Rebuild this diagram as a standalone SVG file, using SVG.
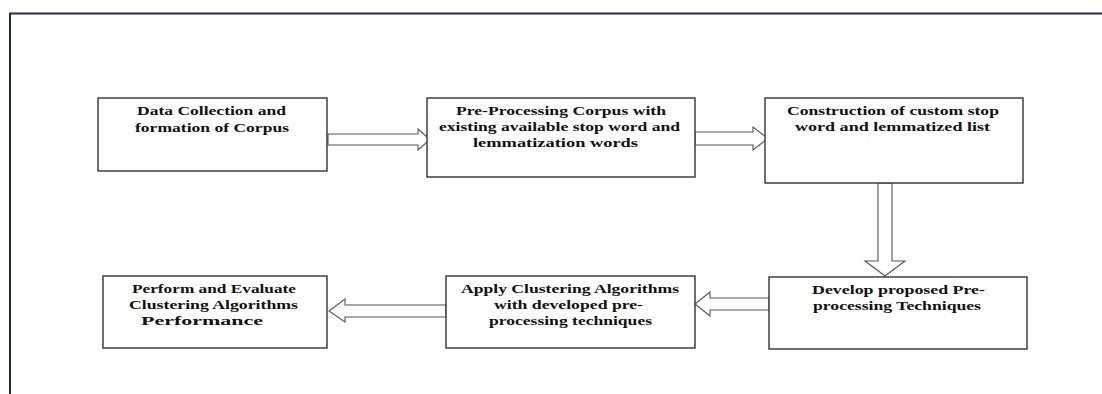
<svg xmlns="http://www.w3.org/2000/svg" width="1102" height="394" viewBox="0 0 1102 394">
<style>
.frame{fill:none;stroke:#1e2b49;stroke-width:2}
.box{fill:#fff;stroke:#333;stroke-width:1.4}
.arr{fill:#fff;stroke:#555;stroke-width:1.1;stroke-linejoin:miter}
text{font-family:"Liberation Serif","Times New Roman",serif;font-weight:bold;font-size:13px;fill:#111}
</style>
<rect width="1102" height="394" fill="#fff"/>
<path class="frame" d="M10,394 V13.5 H1102"/>
<g id="connectors">
<polygon class="arr" points="328,134 418,134 418,129 430,139.5 418,150 418,145 328,145"/>
<polygon class="arr" points="695,132 753,132 753,127 768,138.5 753,150 753,145 695,145"/>
<polygon class="arr" points="878,183 892,183 892,261 905,261 885,276 865,261 878,261"/>
<polygon class="arr" points="769,298 710,298 710,292 695,304 710,316 710,310 769,310"/>
<polygon class="arr" points="446,305 345,305 345,299 329,311 345,322 345,317 446,317"/>
</g>
<g id="n1">
<rect class="box" x="98" y="98" width="229" height="73"/>
<text x="137" y="115" textLength="149" lengthAdjust="spacingAndGlyphs">Data Collection and</text>
<text x="135" y="132" textLength="154" lengthAdjust="spacingAndGlyphs">formation of Corpus</text>
</g>
<g id="n2">
<rect class="box" x="427" y="98" width="268" height="79"/>
<text x="456" y="115" textLength="210" lengthAdjust="spacingAndGlyphs">Pre-Processing Corpus with</text>
<text x="439" y="131" textLength="241" lengthAdjust="spacingAndGlyphs">existing available stop word and</text>
<text x="473" y="147" textLength="165" lengthAdjust="spacingAndGlyphs">lemmatization words</text>
</g>
<g id="n3">
<rect class="box" x="765" y="98" width="258" height="85"/>
<text x="787" y="115" textLength="212" lengthAdjust="spacingAndGlyphs">Construction of custom stop</text>
<text x="795" y="131" textLength="195" lengthAdjust="spacingAndGlyphs">word and lemmatized list</text>
</g>
<g id="n4">
<rect class="box" x="769" y="277" width="258" height="72"/>
<text x="812" y="293.5" textLength="173" lengthAdjust="spacingAndGlyphs">Develop proposed Pre-</text>
<text x="813" y="309.5" textLength="168" lengthAdjust="spacingAndGlyphs">processing Techniques</text>
</g>
<g id="n5">
<rect class="box" x="446" y="276" width="249" height="72"/>
<text x="461" y="292.5" textLength="218" lengthAdjust="spacingAndGlyphs">Apply Clustering Algorithms</text>
<text x="494" y="309" textLength="149" lengthAdjust="spacingAndGlyphs">with developed pre-</text>
<text x="489" y="325" textLength="163" lengthAdjust="spacingAndGlyphs">processing techniques</text>
</g>
<g id="n6">
<rect class="box" x="103" y="276" width="224" height="72"/>
<text x="132" y="292.5" textLength="164" lengthAdjust="spacingAndGlyphs">Perform and Evaluate</text>
<text x="129" y="309" textLength="169" lengthAdjust="spacingAndGlyphs">Clustering Algorithms</text>
<text x="141" y="325" textLength="122" lengthAdjust="spacingAndGlyphs">Performance</text>
</g>
</svg>
